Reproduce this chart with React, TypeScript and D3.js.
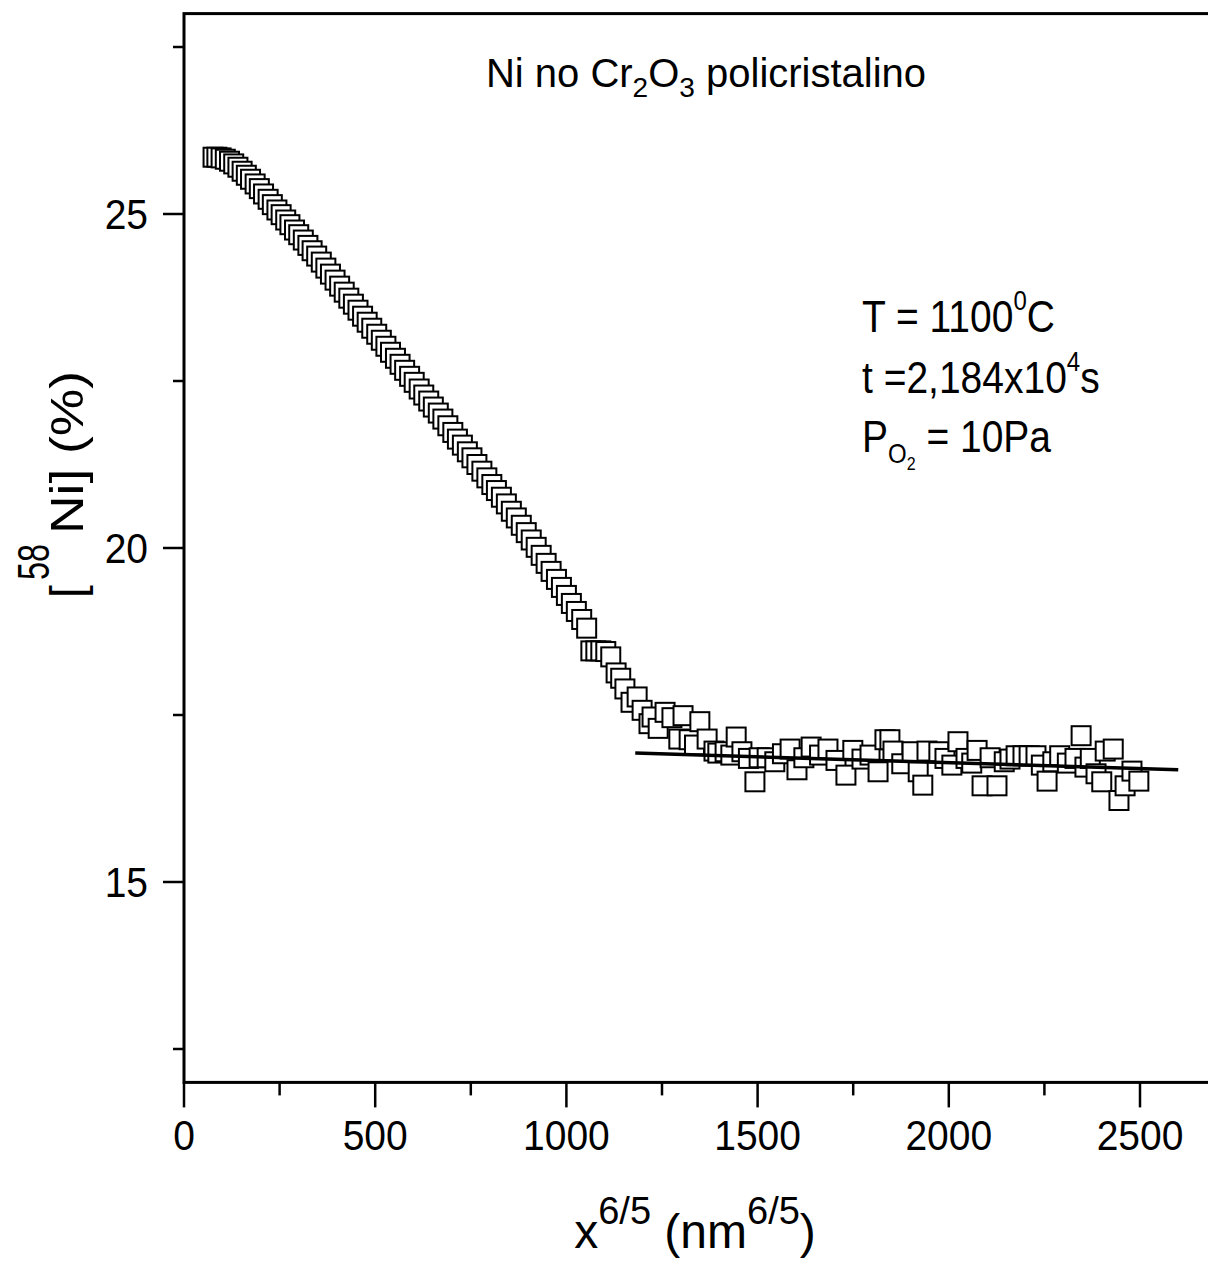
import React from "react";
import * as d3 from "d3";

// x^(6/5) values (nm^(6/5))
const depthX: number[] = [
  76, 86, 97, 108, 119, 130, 141, 152, 163, 174,
  186, 197, 208, 220, 231, 243, 254, 266, 277, 289,
  300, 312, 324, 335, 347, 359, 371, 383, 395, 407,
  419, 431, 443, 455, 467, 479, 491, 504, 516, 528,
  540, 553, 565, 577, 590, 602, 615, 627, 640, 652,
  665, 677, 690, 703, 715, 728, 741, 753, 766, 779,
  792, 805, 817, 830, 843, 856, 869, 882, 895, 908,
  921, 934, 947, 960, 974, 987, 1000, 1013, 1026, 1040,
  1053, 1064, 1077, 1090, 1103, 1116, 1130, 1142, 1153, 1169,
  1185, 1198, 1216, 1224, 1240, 1258, 1276, 1294, 1305, 1321,
  1335, 1349, 1368, 1386, 1396, 1415, 1430, 1444, 1459, 1476,
  1493, 1504, 1525, 1545, 1565, 1585, 1603, 1621, 1640, 1662,
  1684, 1705, 1731, 1749, 1773, 1794, 1815, 1833, 1846, 1854,
  1877, 1904, 1920, 1932, 1943, 1974, 1990, 2008, 2024, 2045,
  2060, 2074, 2087, 2108, 2126, 2145, 2160, 2176, 2194, 2210,
  2228, 2242, 2257, 2272, 2290, 2310, 2330, 2346, 2356, 2370,
  2385, 2400, 2409, 2430, 2445, 2461, 2479, 2497,
];

// [58Ni] (%)
const niConc: number[] = [
  25.85, 25.85, 25.84, 25.82, 25.79, 25.75, 25.7, 25.64, 25.58, 25.52,
  25.45, 25.38, 25.3, 25.22, 25.14, 25.06, 24.99, 24.91, 24.84, 24.76,
  24.69, 24.61, 24.53, 24.45, 24.37, 24.28, 24.19, 24.1, 24.01, 23.92,
  23.83, 23.74, 23.65, 23.56, 23.47, 23.38, 23.29, 23.2, 23.11, 23.02,
  22.93, 22.84, 22.75, 22.66, 22.57, 22.48, 22.38, 22.29, 22.2, 22.11,
  22.02, 21.93, 21.83, 21.73, 21.63, 21.54, 21.44, 21.35, 21.25, 21.15,
  21.05, 20.95, 20.86, 20.76, 20.66, 20.55, 20.45, 20.34, 20.23, 20.12,
  20.01, 19.89, 19.77, 19.65, 19.53, 19.41, 19.29, 19.17, 19.05, 18.93,
  18.8, 18.46, 18.46, 18.46, 18.45, 18.37, 18.13, 18.05, 17.89, 17.69,
  17.77, 17.57, 17.37, 17.47, 17.3, 17.54, 17.46, 17.14, 17.49, 17.13,
  17.05, 17.4, 17.14, 16.96, 16.93, 16.95, 16.9, 17.17, 16.95, 16.85,
  16.5, 16.86, 16.86, 16.8, 16.92, 16.99, 16.68, 16.86, 17.02, 16.9,
  16.99, 16.82, 16.6, 16.97, 16.84, 16.9, 16.65, 17.13, 17.13, 16.96,
  16.77, 16.95, 16.65, 16.45, 16.96, 16.95, 16.85, 16.75, 17.1, 16.85,
  16.78, 16.97, 16.44, 16.86, 16.44, 16.8, 16.84, 16.89, 16.89, 16.89,
  16.89, 16.75, 16.51, 16.8, 16.89, 16.78, 16.85, 17.19, 16.72, 16.85,
  16.62, 16.5, 16.96, 16.99, 16.22, 16.44, 16.66, 16.51,
];

// linear fit of the plateau
const fitX: number[] = [1180, 2600];
const fitY: number[] = [16.93, 16.68];

const xMajorTicks: number[] = [0, 500, 1000, 1500, 2000, 2500];
const xMinorTicks: number[] = [250, 750, 1250, 1750, 2250];
const yMajorTicks: number[] = [15, 20, 25];
const yMinorTicks: number[] = [12.5, 17.5, 22.5, 27.5];

const FONT = "'Liberation Sans', Arial, Helvetica, sans-serif";

export default function App() {
  const W = 1208;
  const H = 1262;
  const x = d3.scaleLinear().domain([0, 2500]).range([184, 1140]);
  const y = d3.scaleLinear().domain([15, 25]).range([882, 214]);
  const xMax = 2700;
  const yMin = 12;
  const yMax = 28;

  const pts = depthX.map((d, i) => [d, niConc[i]] as [number, number]);
  const fitLine = d3
    .line<[number, number]>()
    .x((d) => x(d[0]))
    .y((d) => y(d[1]))(fitX.map((d, i) => [d, fitY[i]] as [number, number]));

  const sq = 19;
  const left = x(0);
  const right = x(xMax);
  const top = y(yMax);
  const bottom = y(yMin);

  return (
    <svg
      width={W}
      height={H}
      viewBox={`0 0 ${W} ${H}`}
      style={{ position: "absolute", left: 0, top: 0, background: "#fff" }}
      fontFamily={FONT}
    >
      <rect x={0} y={0} width={W} height={H} fill="#fff" />
      {/* markers */}
      <g>
        {pts.map((p, i) => (
          <rect
            key={i}
            x={x(p[0]) - sq / 2}
            y={y(p[1]) - sq / 2}
            width={sq}
            height={sq}
            fill="#fff"
            stroke="#000"
            strokeWidth={2}
          />
        ))}
      </g>
      {/* fit line */}
      <path d={fitLine || ""} fill="none" stroke="#000" strokeWidth={3.5} />

      {/* frame */}
      <rect
        x={left}
        y={top}
        width={right - left}
        height={bottom - top}
        fill="none"
        stroke="#000"
        strokeWidth={3}
      />

      {/* x ticks */}
      {xMajorTicks.map((t) => (
        <line key={"xM" + t} x1={x(t)} x2={x(t)} y1={bottom} y2={bottom + 25} stroke="#000" strokeWidth={2.5} />
      ))}
      {xMinorTicks.map((t) => (
        <line key={"xm" + t} x1={x(t)} x2={x(t)} y1={bottom} y2={bottom + 13} stroke="#000" strokeWidth={2.5} />
      ))}
      {xMajorTicks.map((t) => (
        <g key={"xl" + t} transform={`translate(${x(t)},${1150}) scale(1,1.08)`}>
          <text x={0} y={0} textAnchor="middle" fontSize={39} fill="#000">
            {t}
          </text>
        </g>
      ))}

      {/* y ticks */}
      {yMajorTicks.map((t) => (
        <line key={"yM" + t} x1={left - 21} x2={left} y1={y(t)} y2={y(t)} stroke="#000" strokeWidth={2.5} />
      ))}
      {yMinorTicks.map((t) => (
        <line key={"ym" + t} x1={left - 11} x2={left} y1={y(t)} y2={y(t)} stroke="#000" strokeWidth={2.5} />
      ))}
      {yMajorTicks.map((t) => (
        <g key={"yl" + t} transform={`translate(${148},${y(t) + 15}) scale(1,1.08)`}>
          <text x={0} y={0} textAnchor="end" fontSize={39} fill="#000">
            {t}
          </text>
        </g>
      ))}

      {/* x axis title */}
      <g transform={`translate(695,1248)`}>
        <text x={0} y={0} textAnchor="middle" fontSize={48} fill="#000">
          x<tspan fontSize={38} dy={-24}>6/5</tspan>
          <tspan dy={24}> (nm</tspan>
          <tspan fontSize={38} dy={-24}>6/5</tspan>
          <tspan dy={24}>)</tspan>
        </text>
      </g>

      {/* y axis title (rotated) */}
      <g transform={`translate(83,600) rotate(-90)`}>
        <text x={2} y={0} fontSize={46} fill="#000">
          [
        </text>
        <text x={20} y={-34} fontSize={44} fill="#000" textLength={36} lengthAdjust="spacingAndGlyphs">
          58
        </text>
        <text x={66} y={0} fontSize={46} fill="#000" textLength={163} lengthAdjust="spacingAndGlyphs">
          Ni] (%)
        </text>
      </g>

      {/* title */}
      <g transform={`translate(706,87)`}>
        <text x={0} y={0} textAnchor="middle" fontSize={40} fill="#000">
          Ni no Cr<tspan fontSize={28} dy={10}>2</tspan>
          <tspan dy={-10}>O</tspan>
          <tspan fontSize={28} dy={10}>3</tspan>
          <tspan dy={-10}> policristalino</tspan>
        </text>
      </g>

      {/* annotations */}
      <g transform={`translate(862,332) scale(1,1.12)`}>
        <text x={0} y={0} fontSize={39} fill="#000">
          T = 1100<tspan fontSize={24} dy={-20}>0</tspan>
          <tspan dy={20}>C</tspan>
        </text>
      </g>
      <g transform={`translate(862,393) scale(1,1.12)`}>
        <text x={0} y={0} fontSize={39} fill="#000">
          t =2,184x10<tspan fontSize={24} dy={-20}>4</tspan>
          <tspan dy={20}>s</tspan>
        </text>
      </g>
      <g transform={`translate(862,452) scale(1,1.12)`}>
        <text x={0} y={0} fontSize={39} fill="#000">
          P<tspan fontSize={24} dy={10}>O</tspan>
          <tspan fontSize={16} dy={6}>2</tspan>
          <tspan dy={-16}> = 10Pa</tspan>
        </text>
      </g>
    </svg>
  );
}
